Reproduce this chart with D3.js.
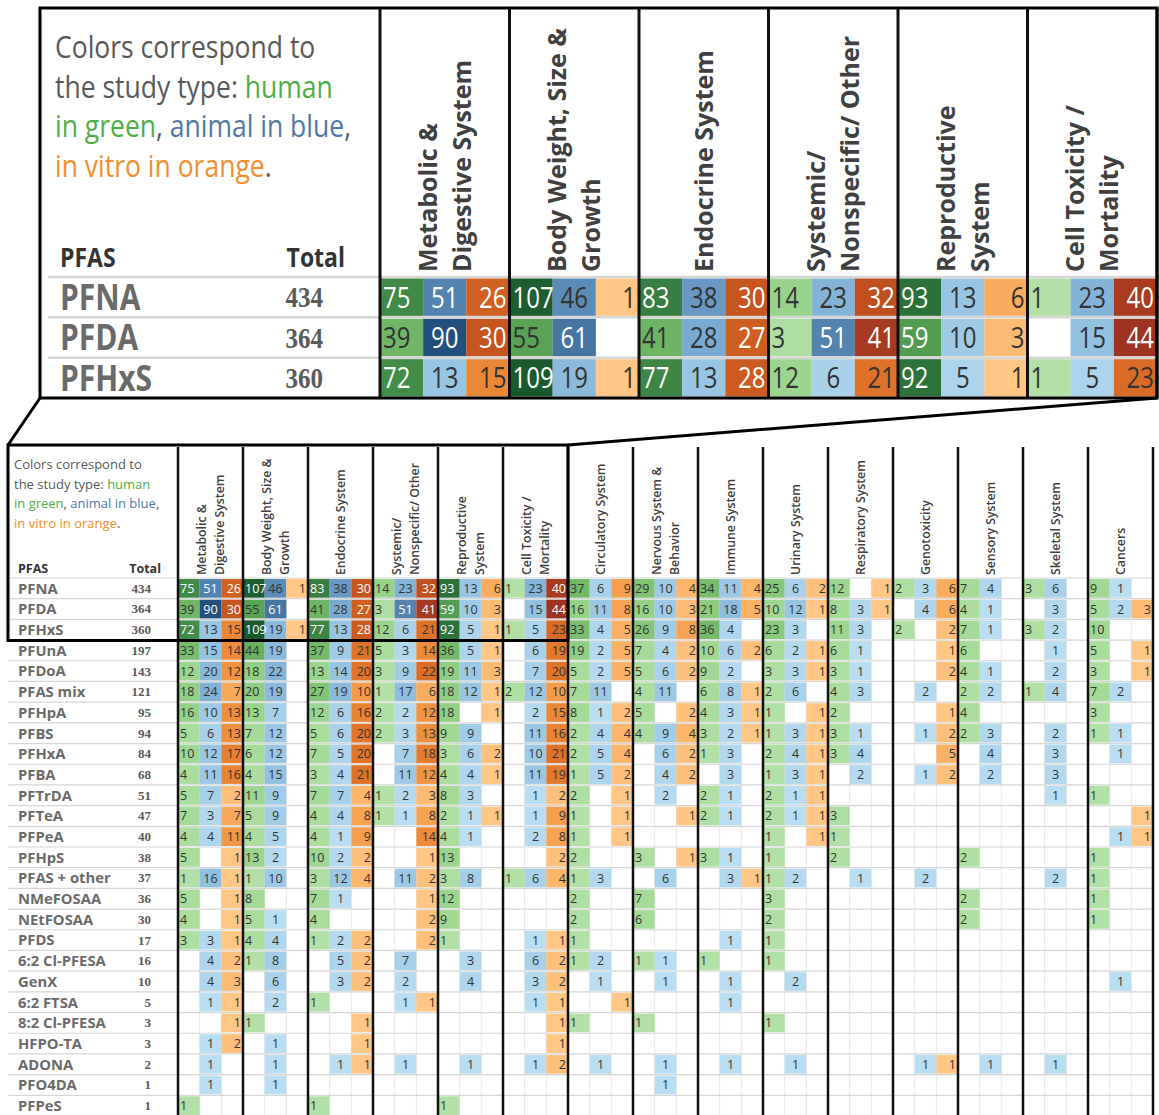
<!DOCTYPE html>
<html><head><meta charset="utf-8">
<script src="https://cdn.jsdelivr.net/npm/d3@7"></script>
<style>body{margin:0;background:#fff} svg{display:block}</style>
</head><body><svg id="c" width="1159" height="1115"></svg>
<script>
// ---------------- DATA ----------------
const categories = ["Metabolic & Digestive System","Body Weight, Size & Growth","Endocrine System","Systemic/ Nonspecific/ Other","Reproductive System","Cell Toxicity / Mortality","Circulatory System","Nervous System & Behavior","Immune System","Urinary System","Respiratory System","Genotoxicity","Sensory System","Skeletal System","Cancers"];
const categoryLines = [["Metabolic &","Digestive System"],["Body Weight, Size &","Growth"],["Endocrine System"],["Systemic/","Nonspecific/ Other"],["Reproductive","System"],["Cell Toxicity /","Mortality"],["Circulatory System"],["Nervous System &","Behavior"],["Immune System"],["Urinary System"],["Respiratory System"],["Genotoxicity"],["Sensory System"],["Skeletal System"],["Cancers"]];
const types = ["human","animal","in vitro"];
const pfas = ["PFNA","PFDA","PFHxS","PFUnA","PFDoA","PFAS mix","PFHpA","PFBS","PFHxA","PFBA","PFTrDA","PFTeA","PFPeA","PFHpS","PFAS + other","NMeFOSAA","NEtFOSAA","PFDS","6:2 Cl-PFESA","GenX","6:2 FTSA","8:2 Cl-PFESA","HFPO-TA","ADONA","PFO4DA","PFPeS"];
const totals = [434,364,360,197,143,121,95,94,84,68,51,47,40,38,37,36,30,17,16,10,5,3,3,2,1,1];
// rows = pfas, columns = categories (0 = no studies)
const human = [
 [75,107,83,14,93,1,37,29,34,25,12,2,7,3,9],
 [39,55,41,3,59,0,16,16,21,10,8,0,4,0,5],
 [72,109,77,12,92,1,33,26,36,23,11,2,7,3,10],
 [33,44,37,5,36,0,19,7,10,6,6,0,6,0,5],
 [12,18,13,3,19,0,5,5,9,3,3,0,4,0,3],
 [18,20,27,1,18,2,7,4,6,2,4,0,2,1,7],
 [16,13,12,2,18,0,8,5,4,1,2,0,4,0,3],
 [5,7,5,2,9,0,2,4,3,1,3,0,2,0,1],
 [10,6,7,0,3,0,2,0,1,2,3,0,0,0,0],
 [4,4,3,0,4,0,1,0,0,1,0,0,0,0,0],
 [5,11,7,1,8,0,2,0,2,2,0,0,0,0,1],
 [7,5,4,1,2,0,1,0,2,2,3,0,0,0,0],
 [4,4,4,0,4,0,1,0,0,1,1,0,0,0,0],
 [5,13,10,0,13,0,2,3,3,1,2,0,2,0,1],
 [1,1,3,0,3,1,1,0,0,1,0,0,0,0,1],
 [5,8,7,0,12,0,2,7,0,3,0,0,2,0,1],
 [4,5,4,0,9,0,2,6,0,2,0,0,2,0,1],
 [3,4,1,0,1,0,1,0,0,1,0,0,0,0,0],
 [0,1,0,0,0,0,1,1,1,1,0,0,0,0,0],
 [0,0,0,0,0,0,0,0,0,0,0,0,0,0,0],
 [0,0,1,0,0,0,0,0,0,0,0,0,0,0,0],
 [0,1,0,0,0,0,1,1,0,1,0,0,0,0,0],
 [0,0,0,0,0,0,0,0,0,0,0,0,0,0,0],
 [0,0,0,0,0,0,0,0,0,0,0,0,0,0,0],
 [0,0,0,0,0,0,0,0,0,0,0,0,0,0,0],
 [1,0,1,0,1,0,0,0,0,0,0,0,0,0,0]
];
const animal = [
 [51,46,38,23,13,23,6,10,11,6,0,3,4,6,1],
 [90,61,28,51,10,15,11,10,18,12,3,4,1,3,2],
 [13,19,13,6,5,5,4,9,4,3,3,0,1,2,0],
 [15,19,9,3,5,6,2,4,6,2,1,0,0,1,0],
 [20,22,14,9,11,7,2,6,2,3,1,0,1,2,0],
 [24,19,19,17,12,12,11,11,8,6,3,2,2,4,2],
 [10,7,6,2,0,2,1,0,3,0,0,0,0,0,0],
 [6,12,6,3,9,11,4,9,2,3,1,1,3,2,1],
 [12,12,5,7,6,10,5,6,3,4,4,0,4,3,1],
 [11,15,4,11,4,11,5,4,3,3,2,1,2,3,0],
 [7,9,7,2,3,1,0,2,1,1,0,0,0,1,0],
 [3,9,4,1,1,1,0,0,1,1,0,0,0,0,0],
 [4,5,1,0,1,2,0,0,0,0,0,0,0,0,1],
 [0,2,2,0,0,0,0,0,1,0,0,0,0,0,0],
 [16,10,12,11,8,6,3,6,3,2,1,2,0,2,0],
 [0,0,1,0,0,0,0,0,0,0,0,0,0,0,0],
 [0,1,0,0,0,0,0,0,0,0,0,0,0,0,0],
 [3,4,2,0,0,1,0,0,1,0,0,0,0,0,0],
 [4,8,5,7,3,6,2,1,0,0,0,0,0,0,0],
 [4,6,3,2,4,3,1,1,1,2,0,0,0,0,1],
 [1,2,0,1,0,1,0,0,1,0,0,0,0,0,0],
 [0,0,0,0,0,0,0,0,0,0,0,0,0,0,0],
 [1,1,0,0,0,0,0,0,0,0,0,0,0,0,0],
 [1,1,1,1,1,1,1,1,1,1,0,1,1,1,0],
 [1,1,0,0,0,0,0,1,0,0,0,0,0,0,0],
 [0,0,0,0,0,0,0,0,0,0,0,0,0,0,0]
];
const inVitro = [
 [26,1,30,32,6,40,9,4,4,2,1,6,0,0,0],
 [30,0,27,41,3,44,8,3,5,1,1,6,0,0,3],
 [15,1,28,21,1,23,5,8,0,0,0,2,0,0,0],
 [14,0,21,14,1,19,5,2,2,1,0,1,0,0,1],
 [12,0,20,22,3,20,5,2,0,1,0,2,0,0,1],
 [7,0,10,6,1,10,0,0,1,0,0,0,0,0,0],
 [13,0,16,12,1,15,2,2,1,1,0,1,0,0,0],
 [13,0,20,13,0,16,4,4,1,1,0,2,0,0,0],
 [17,0,20,18,2,21,4,2,0,1,0,5,0,0,0],
 [16,0,21,12,1,19,2,2,0,1,0,2,0,0,0],
 [2,0,4,3,0,2,1,0,0,1,0,0,0,0,0],
 [7,0,8,8,1,9,1,1,0,1,0,0,0,0,1],
 [11,0,9,14,0,8,1,0,0,1,0,0,0,0,1],
 [1,0,2,1,0,2,0,1,0,0,0,0,0,0,0],
 [1,0,4,2,0,4,0,0,1,0,0,0,0,0,0],
 [1,0,0,1,0,0,0,0,0,0,0,0,0,0,0],
 [1,0,0,2,0,0,0,0,0,0,0,0,0,0,0],
 [1,0,2,2,0,1,0,0,0,0,0,0,0,0,0],
 [2,0,2,0,0,2,0,0,0,0,0,0,0,0,0],
 [3,0,2,0,0,2,0,0,0,0,0,0,0,0,0],
 [1,0,0,1,0,1,1,0,0,0,0,0,0,0,0],
 [1,0,1,0,0,1,0,0,0,0,0,0,0,0,0],
 [2,0,1,0,0,1,0,0,0,0,0,0,0,0,0],
 [0,0,1,0,0,2,0,0,0,0,0,1,0,0,0],
 [0,0,0,0,0,0,0,0,0,0,0,0,0,0,0],
 [0,0,0,0,0,0,0,0,0,0,0,0,0,0,0]
];
const legendLines = [
  [["Colors correspond to","text"]],
  [["the study type: ","text"],["human","human"]],
  [["in green","human"],[", ","text"],["animal in blue","animal"],[",","text"]],
  [["in vitro in orange","in vitro"],[".","text"]]
];

// ---------------- STYLE / SCALES ----------------
const valuesByType = {"human": human, "animal": animal, "in vitro": inVitro};
const palettes = {
  "human": ["#b3e0a6","#92d183","#66af5c","#3f8a49","#1b5a2d"],
  "animal": ["#b9ddf1","#91c1e1","#6899c6","#44729f","#22507e"],
  "in vitro": ["#ffc685","#f6a24e","#e6792a","#c5521c","#9e3322"]
};
const textColors = {"text":"#595959","human":"#4fae48","animal":"#4e79a7","in vitro":"#f28e2b"};
const tScale = {}, colorOf = {};
types.forEach(t => {
  const mx = d3.max(valuesByType[t].flat());
  tScale[t] = d3.scalePow().exponent(0.75).domain([1, mx]).range([0, 1]).clamp(true);
  const interp = d3.interpolateRgbBasis(palettes[t]);
  colorOf[t] = v => interp(tScale[t](v));
});
const FONT = "'Open Sans', 'Noto Sans', sans-serif";
const SERIF = "'Liberation Serif', 'DejaVu Serif', serif";

const svg = d3.select("#c");

function cellsFor(rowIdx, catIdx) {
  const out = [];
  rowIdx.forEach(r => catIdx.forEach(c => types.forEach(t => {
    const v = valuesByType[t][r][c];
    if (v > 0) out.push({r, c, t, v});
  })));
  return out;
}

function drawTable(g, opt) {
  const rowIdx = d3.range(opt.nRows), catIdx = d3.range(opt.nCats);
  const cats = catIdx.map(i => categories[i]);
  const rows = rowIdx.map(i => pfas[i]);
  const x = d3.scaleBand().domain(cats).range(opt.xRange);
  const sub = d3.scaleBand().domain(types).range([0, x.bandwidth()]);
  const y = d3.scaleBand().domain(rows).range(opt.yRange);
  const sy = opt.stretch;

  const subLines = [];
  cats.forEach(c => types.forEach((t, i) => { if (i > 0) subLines.push(x(c) + sub(t)); }));
  g.selectAll(".sub").data(subLines).join("line")
    .attr("x1", d => d).attr("x2", d => d)
    .attr("y1", opt.yRange[0]).attr("y2", opt.yRange[1])
    .attr("stroke", "#e8e8e8").attr("stroke-width", 1);
  const rowLines = rows.map(r => y(r)).concat([opt.yRange[1]]);
  g.selectAll(".rowline").data(rowLines).join("line")
    .attr("x1", opt.labelX0).attr("x2", opt.xRange[1])
    .attr("y1", d => d).attr("y2", d => d)
    .attr("stroke", "#d6d6d6").attr("stroke-width", opt.rowLineW);

  const cells = cellsFor(rowIdx, catIdx);
  const inset = opt.inset;
  g.selectAll(".cell").data(cells).join("rect")
    .attr("x", d => x(categories[d.c]) + sub(d.t))
    .attr("y", d => y(pfas[d.r]) + inset)
    .attr("width", sub.bandwidth())
    .attr("height", y.bandwidth() - 2 * inset)
    .attr("fill", d => colorOf[d.t](d.v));
  g.selectAll(".num").data(cells).join("text")
    .attr("transform", d => {
      const cx = x(categories[d.c]) + sub(d.t);
      const px = d.t === "human" ? cx + opt.pad : d.t === "animal" ? cx + sub.bandwidth() / 2 : cx + sub.bandwidth() - opt.pad;
      const py = y(pfas[d.r]) + y.bandwidth() / 2 + opt.numSize * 0.36 * sy;
      return `translate(${px},${py}) scale(1,${sy})`;
    })
    .attr("text-anchor", d => d.t === "human" ? "start" : d.t === "animal" ? "middle" : "end")
    .attr("font-family", FONT).attr("font-size", opt.numSize)
    .attr("fill", d => tScale[d.t](d.v) > 0.6 ? "#ffffff" : "#333333")
    .text(d => d.v);

  g.selectAll(".rlab").data(rows).join("text")
    .attr("transform", d => `translate(${opt.labelX},${y(d) + y.bandwidth() / 2 + opt.labSize * 0.36 * sy}) scale(1,${sy})`)
    .attr("font-family", FONT).attr("font-weight", 700).attr("font-size", opt.labSize)
    .attr("fill", "#6a6a6a").text(d => d);
  g.selectAll(".tot").data(rows).join("text")
    .attr("transform", (d, i) => `translate(${opt.totalX},${y(d) + y.bandwidth() / 2 + opt.totSize * 0.34 * sy}) scale(1,${sy})`)
    .attr("text-anchor", "end")
    .attr("font-family", SERIF).attr("font-weight", 700).attr("font-size", opt.totSize)
    .attr("fill", "#5a5a5a").text((d, i) => totals[i]);

  cats.forEach((c, ci) => {
    const lines = categoryLines[ci];
    const cx = x(c) + x.bandwidth() / 2;
    lines.forEach((ln, li) => {
      const vx = cx + (li - (lines.length - 1) / 2) * opt.headSpacing + opt.headSize * 0.36;
      g.append("text")
        .attr("transform", `translate(${vx},${opt.headBottom}) rotate(-90)`)
        .attr("font-family", FONT).attr("font-size", opt.headSize)
        .attr("font-weight", opt.headWeight).attr("fill", "#404040")
        .text(ln);
    });
  });
  g.append("text").attr("transform", `translate(${opt.labelX},${opt.colHeadY}) scale(1,${sy})`)
    .attr("font-family", FONT).attr("font-weight", 700).attr("font-size", opt.colHeadSize)
    .attr("fill", "#333").text("PFAS");
  g.append("text").attr("transform", `translate(${opt.totalHeadX},${opt.colHeadY}) scale(1,${sy})`)
    .attr("text-anchor", "end")
    .attr("font-family", FONT).attr("font-weight", 700).attr("font-size", opt.colHeadSize)
    .attr("fill", "#333").text("Total");

  legendLines.forEach((parts, li) => {
    const t = g.append("text")
      .attr("transform", `translate(${opt.legendX},${opt.legendY0 + li * opt.legendStep}) scale(1,${sy})`)
      .attr("font-family", FONT).attr("font-size", opt.legendSize);
    parts.forEach(p => t.append("tspan").attr("fill", textColors[p[1]]).text(p[0]));
  });

  const seps = cats.map(c => x(c)).concat([opt.xRange[1]]);
  g.selectAll(".sep").data(seps).join("line")
    .attr("x1", d => d).attr("x2", d => d)
    .attr("y1", opt.sepTop).attr("y2", opt.yRange[1])
    .attr("stroke", "#111").attr("stroke-width", opt.sepW);
  return {x, y};
}

// ---------------- BOTTOM (full) TABLE ----------------
const gB = svg.append("g");
drawTable(gB, {
  nRows: pfas.length, nCats: categories.length,
  xRange: [178, 1153], yRange: [578, 1116],
  stretch: 1, inset: 1, pad: 2, rowLineW: 1.2,
  numSize: 12.5, labSize: 14.8, totSize: 13, labelX: 18, labelX0: 8, totalX: 151,
  headSize: 12.3, headSpacing: 18, headBottom: 575, headWeight: 600,
  colHeadSize: 12.5, colHeadY: 573, totalHeadX: 161,
  legendSize: 13, legendX: 14, legendY0: 469, legendStep: 19.5,
  sepTop: 447, sepW: 2.5
});

// ---------------- TOP (magnified) TABLE ----------------
const gT = svg.append("g");
drawTable(gT, {
  nRows: 3, nCats: 6,
  xRange: [380, 1157], yRange: [277, 398],
  stretch: 1.2, inset: 1.5, pad: 3, rowLineW: 2.5,
  numSize: 24, labSize: 30, totSize: 25, labelX: 60, labelX0: 48, totalX: 323,
  headSize: 25, headSpacing: 34, headBottom: 272, headWeight: 700,
  colHeadSize: 23, colHeadY: 267, totalHeadX: 345,
  legendSize: 26.5, legendX: 55, legendY0: 58, legendStep: 39.5,
  sepTop: 8, sepW: 3
});

// ---------------- ZOOM FRAME ----------------
const frame = svg.append("g").attr("fill", "none").attr("stroke", "#000").attr("stroke-width", 3);
frame.append("rect").attr("x", 40).attr("y", 8).attr("width", 1117).attr("height", 390);
frame.append("rect").attr("x", 8).attr("y", 445).attr("width", 560).attr("height", 195.5);
frame.append("line").attr("x1", 40).attr("y1", 398).attr("x2", 8).attr("y2", 445);
frame.append("line").attr("x1", 1157).attr("y1", 398).attr("x2", 568).attr("y2", 445);
</script></body></html>
